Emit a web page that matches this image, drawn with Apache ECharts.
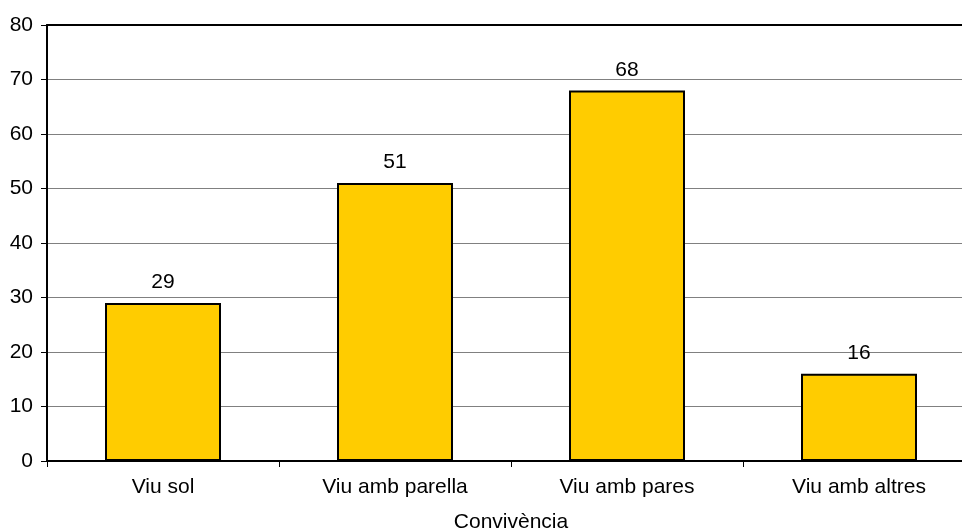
<!DOCTYPE html>
<html>
<head>
<meta charset="utf-8">
<script src="https://cdn.jsdelivr.net/npm/echarts@6/dist/echarts.min.js"></script>
<style>
  html, body { margin: 0; padding: 0; background: #fff; }
  #chart { width: 962px; height: 531px; }
</style>
</head>
<body>
<div id="chart"></div>
<script>
// Household arrangement categories and counts
const categories = ['Viu sol', 'Viu amb parella', 'Viu amb pares', 'Viu amb altres'];
const counts = [29, 51, 68, 16];
const axisTitle = 'Convivència';

const font = 'Liberation Sans, Arial, sans-serif';
const chart = echarts.init(document.getElementById('chart'));
chart.setOption({
  animation: false,
  backgroundColor: '#ffffff',
  grid: { left: 47, top: 25, width: 928, height: 436, outerBoundsMode: 'none', containLabel: false },
  xAxis: [{
    type: 'category',
    data: categories,
    name: axisTitle,
    nameLocation: 'middle',
    nameGap: 51,
    nameTextStyle: { color: '#000', fontFamily: font, fontSize: 21 },
    axisLine: { lineStyle: { color: '#000', width: 2 } },
    axisTick: { show: true, length: 6, lineStyle: { color: '#000', width: 1 } },
    axisLabel: { color: '#000', fontFamily: font, fontSize: 21, margin: 16 }
  }, {
    // frame line along the top of the plot
    type: 'category',
    data: categories,
    position: 'top',
    axisLine: { lineStyle: { color: '#000', width: 2 } },
    axisTick: { show: false },
    axisLabel: { show: false }
  }],
  yAxis: {
    type: 'value',
    min: 0,
    max: 80,
    interval: 10,
    axisLine: { show: true, lineStyle: { color: '#000', width: 2 } },
    axisTick: { show: true, length: 6, lineStyle: { color: '#000', width: 1 } },
    axisLabel: { color: '#000', fontFamily: font, fontSize: 21, margin: 14 },
    splitLine: { show: true, lineStyle: { color: '#808080', width: 1 } }
  },
  series: [{
    type: 'bar',
    data: counts,
    barWidth: '50%',
    itemStyle: { color: '#FFCC00', borderColor: '#000', borderWidth: 2 },
    label: {
      show: true,
      position: 'top',
      distance: 10,
      color: '#000',
      fontFamily: font,
      fontSize: 21
    }
  }]
});
</script>
</body>
</html>
